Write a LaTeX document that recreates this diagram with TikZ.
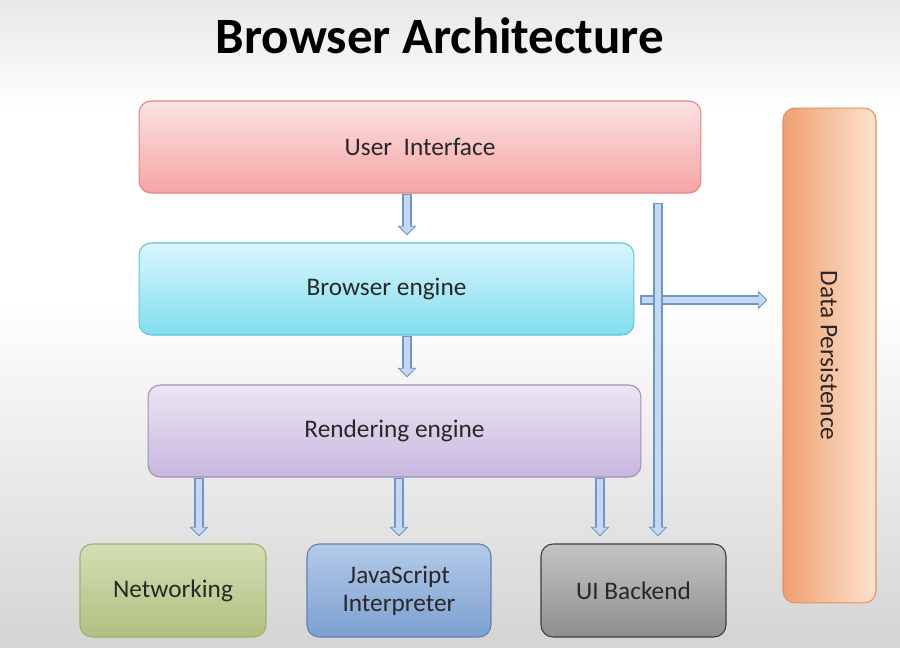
\documentclass[tikz,border=0pt]{standalone}
\usepackage{fontspec}
\setmainfont{Carlito}
\usetikzlibrary{arrows.meta,positioning,calc}

\definecolor{txt}{RGB}{40,40,40}
\definecolor{bgtop}{RGB}{232,232,232}
\definecolor{bgbot}{RGB}{212,212,212}
\definecolor{uitop}{RGB}{253,226,226}
\definecolor{uibot}{RGB}{246,164,164}
\definecolor{uiedge}{RGB}{226,130,130}
\definecolor{betop}{RGB}{218,246,252}
\definecolor{bebot}{RGB}{128,222,240}
\definecolor{beedge}{RGB}{96,196,214}
\definecolor{retop}{RGB}{236,230,244}
\definecolor{rebot}{RGB}{200,182,222}
\definecolor{reedge}{RGB}{160,144,186}
\definecolor{nettop}{RGB}{212,222,180}
\definecolor{netbot}{RGB}{176,192,128}
\definecolor{netedge}{RGB}{160,176,110}
\definecolor{jstop}{RGB}{180,202,234}
\definecolor{jsbot}{RGB}{124,160,208}
\definecolor{jsedge}{RGB}{96,128,176}
\definecolor{uibtop}{RGB}{196,196,196}
\definecolor{uibbot}{RGB}{142,142,142}
\definecolor{uibedge}{RGB}{60,60,60}
\definecolor{dpleft}{RGB}{240,160,112}
\definecolor{dpright}{RGB}{252,226,206}
\definecolor{dpedge}{RGB}{226,146,96}
\definecolor{arrowedge}{RGB}{110,150,200}
\definecolor{arrowfill}{RGB}{196,216,242}

\begin{document}
\begin{tikzpicture}[
    x=0.02cm, y=-0.02cm,
    layer/.style={rectangle, rounded corners=0.24cm, minimum height=1.84cm, line width=0.6pt, text=txt, font=\fontsize{14.4}{16}\selectfont, align=center},
    uibox/.style={layer, draw=uiedge, top color=uitop, bottom color=uibot},
    bebox/.style={layer, draw=beedge, top color=betop, bottom color=bebot},
    rebox/.style={layer, draw=reedge, top color=retop, bottom color=rebot},
    netbox/.style={layer, draw=netedge, top color=nettop, bottom color=netbot, minimum width=3.72cm, minimum height=1.86cm},
    jsbox/.style={layer, draw=jsedge, top color=jstop, bottom color=jsbot, minimum width=3.68cm, minimum height=1.86cm},
    uibbox/.style={layer, draw=uibedge, top color=uibtop, bottom color=uibbot, minimum width=3.7cm, minimum height=1.86cm},
    dpbox/.style={layer, draw=dpedge, left color=dpleft, right color=dpright, minimum width=1.86cm, minimum height=9.9cm},
    barrow/.style={draw=arrowedge, line width=5.2pt, -{Triangle[width=10.5pt,length=5.5pt]},
        postaction={draw=arrowfill, line width=3.6pt, -{Triangle[width=7.8pt,length=4.1pt]}, shorten >=0.9pt, shorten <=0.8pt}}
]

% Background
\fill[top color=bgtop, bottom color=white, draw=none] (0,0) rectangle (900,110);
\fill[white] (0,110) rectangle (900,300);
\fill[top color=white, bottom color=bgbot, draw=none] (0,300) rectangle (900,647);

% Title
\node[font=\fontsize{29}{33}\selectfont\bfseries] (title) at (440,36) {Browser Architecture};

% Layers
\node[uibox, minimum width=11.24cm] (ui) at (420,147) {User~~Interface};
\node[bebox, minimum width=9.9cm] (be) at (386.5,289) {Browser engine};
\node[rebox, minimum width=9.86cm] (re) at (394.5,431) {Rendering engine};

% Components
\node[netbox] (net) at (173,590.5) {Networking};
\node[jsbox] (js) at (399,590.5) {JavaScript\\Interpreter};
\node[uibbox] (uib) at (633.5,590.5) {UI Backend};

% Storage
\node[dpbox] (dp) at (829.5,355.5) {\rotatebox{-90}{Data Persistence}};

% Connections
\draw[barrow] (ui.south -| 407,0) -- ($(be.north -| 407,0)+(0,-7)$);
\draw[barrow] (be.south -| 407,0) -- ($(re.north -| 407,0)+(0,-7)$);
\draw[barrow] (re.south -| 199,0) -- ($(net.north -| 199,0)+(0,-7)$);
\draw[barrow] (re.south -| 399,0) -- ($(js.north -| 399,0)+(0,-7)$);
\draw[barrow] (re.south -| 600,0) -- ($(uib.north -| 600,0)+(0,-7)$);
\draw[barrow] ($(be.east |- 0,300)+(6,0)$) -- ($(dp.west |- 0,300)+(-15,0)$);
\draw[barrow] ($(ui.south -| 658,0)+(0,9)$) -- ($(uib.north -| 658,0)+(0,-7)$);

\end{tikzpicture}
\end{document}
